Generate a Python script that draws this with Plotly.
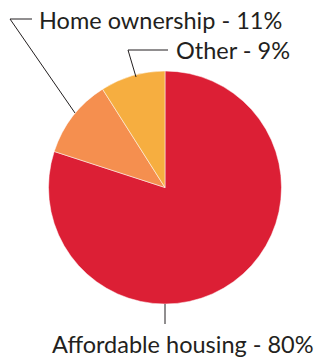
import plotly.graph_objects as go

labels = ["Affordable housing", "Home ownership", "Other"]
values = [80, 11, 9]
colors = ["#DC1F35", "#F58F4F", "#F6AE40"]

W, H = 326, 360
CX, CY, R = 165, 187.5, 116.5

def px(x):
    return x / W

def py(y):
    return 1 - y / H

fig = go.Figure(go.Pie(
    labels=labels, values=values, sort=False, direction="clockwise", rotation=0,
    marker=dict(colors=colors, line=dict(color="white", width=0.5)),
    textinfo="none", hoverinfo="label+percent", showlegend=False,
    domain=dict(x=[px(CX - R), px(CX + R)], y=[py(CY + R), py(CY - R)]),
))

font = dict(family="Lato, Carlito, sans-serif", size=23.5, color="#231F20")
texts = [f"{l} - {v}%" for l, v in zip(labels, values)]
# (text anchor x, y) in pixels
text_pos = [(51, 344), (38, 20), (175, 50)]
for t, (x, y) in zip(texts, text_pos):
    fig.add_annotation(text=t, x=px(x), y=py(y), xref="paper", yref="paper",
                       xanchor="left", yanchor="middle", showarrow=False,
                       borderpad=0, font=font)

leaders = [
    [(165, 304), (165, 324)],
    [(75, 113), (10, 19), (32, 19)],
    [(136, 77), (128, 50), (168, 50)],
]
for pts in leaders:
    path = "M " + " L ".join(f"{px(x)},{py(y)}" for x, y in pts)
    fig.add_shape(type="path", path=path, xref="paper", yref="paper",
                  line=dict(color="#231F20", width=1))

fig.update_layout(width=W, height=H, margin=dict(l=0, r=0, t=0, b=0),
                  paper_bgcolor="white", plot_bgcolor="white")
fig.write_html("out.html")
